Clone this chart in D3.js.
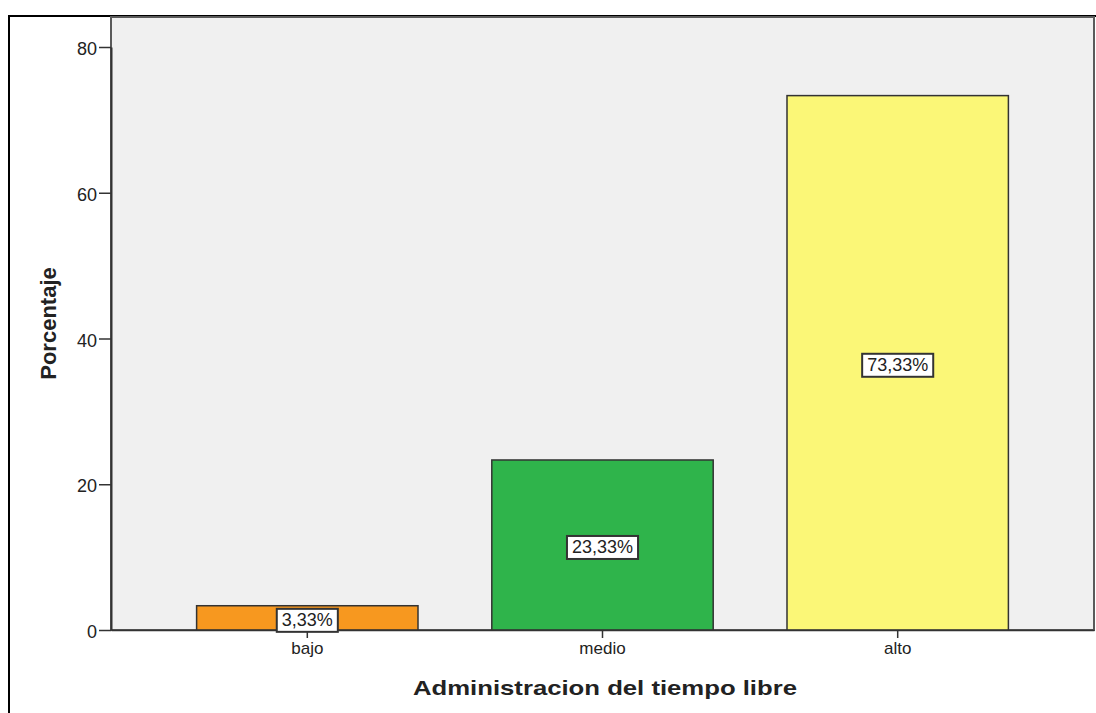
<!DOCTYPE html>
<html>
<head>
<meta charset="utf-8">
<script src="https://cdn.jsdelivr.net/npm/d3@7/dist/d3.min.js"></script>
<style>
  html, body { margin: 0; padding: 0; background: #fff; }
  svg { display: block; }
  text { font-family: Arial, "Liberation Sans", sans-serif; fill: #222; }
</style>
</head>
<body>
<svg id="chart" width="1096" height="713"></svg>
<script>
// Distribution of "Administracion del tiempo libre"
const categories = ["bajo", "medio", "alto"];
const percentages = [3.33, 23.33, 73.33];
const valueLabels = ["3,33%", "23,33%", "73,33%"];
const barColors = ["#f7981f", "#2fb44b", "#fbf777"];
const yTicks = [0, 20, 40, 60, 80];

const FONT = "Arial, 'Liberation Sans', sans-serif";
const svg = d3.select("#chart");

// Outer frame
svg.append("path")
  .attr("d", "M9,713 L9,16 L1096,16")
  .attr("fill", "none")
  .attr("stroke", "#000")
  .attr("stroke-width", 2);

const plot = { left: 111, right: 1094, top: 17, bottom: 630 };

const x = d3.scaleBand()
  .domain(categories)
  .range([plot.left, plot.right])
  .paddingInner(0.25)
  .paddingOuter(0.29);

const y = d3.scaleLinear()
  .domain([0, 80])
  .range([plot.bottom, 47]);

// Plot background
svg.append("rect")
  .attr("x", plot.left)
  .attr("y", plot.top)
  .attr("width", plot.right - plot.left)
  .attr("height", plot.bottom - plot.top)
  .attr("fill", "#f0f0f0")
  .attr("stroke", "#5a5a5a")
  .attr("stroke-width", 2);

// Bars
svg.append("g").selectAll("rect")
  .data(categories)
  .join("rect")
  .attr("x", d => x(d))
  .attr("width", x.bandwidth())
  .attr("y", (d, i) => y(percentages[i]))
  .attr("height", (d, i) => y(0) - y(percentages[i]))
  .attr("fill", (d, i) => barColors[i])
  .attr("stroke", "#333")
  .attr("stroke-width", 1.5);

// Axes
const yAxis = svg.append("g")
  .attr("transform", `translate(${plot.left},0)`)
  .call(d3.axisLeft(y).tickValues(yTicks).tickSize(12).tickSizeOuter(0).tickPadding(2));
yAxis.select(".domain").attr("stroke", "#333").attr("stroke-width", 2);
yAxis.selectAll(".tick line").attr("stroke", "#333").attr("stroke-width", 1.5);
yAxis.selectAll(".tick text").attr("font-size", 18).attr("fill", "#222")
  .attr("font-family", FONT).attr("dy", "0.42em");

const xAxis = svg.append("g")
  .attr("transform", `translate(0,${plot.bottom})`)
  .call(d3.axisBottom(x).tickSize(8).tickSizeOuter(0).tickPadding(4));
xAxis.select(".domain").attr("stroke", "#333").attr("stroke-width", 1.5);
xAxis.selectAll(".tick line").attr("stroke", "#333").attr("stroke-width", 1.5);
xAxis.selectAll(".tick text").attr("font-size", 17).attr("fill", "#222")
  .attr("font-family", FONT);

// Value labels centred in each bar
const labels = svg.append("g").selectAll("g")
  .data(categories)
  .join("g")
  .attr("transform", (d, i) =>
    `translate(${x(d) + x.bandwidth() / 2},${(y(percentages[i]) + y(0)) / 2 + 2})`);

labels.append("text")
  .attr("text-anchor", "middle")
  .attr("dy", "0.36em")
  .attr("font-size", 18)
  .text((d, i) => valueLabels[i])
  .each(function () {
    const b = this.getBBox();
    d3.select(this.parentNode).insert("rect", "text")
      .attr("x", b.x - 5)
      .attr("y", b.y - 1.5)
      .attr("width", b.width + 10)
      .attr("height", b.height + 3)
      .attr("fill", "#fff")
      .attr("stroke", "#333")
      .attr("stroke-width", 2);
  });

// Axis titles
svg.append("text")
  .attr("x", 605)
  .attr("y", 695)
  .attr("text-anchor", "middle")
  .attr("font-size", 21)
  .attr("font-weight", "bold")
  .attr("textLength", 384)
  .attr("lengthAdjust", "spacingAndGlyphs")
  .text("Administracion del tiempo libre");

svg.append("text")
  .attr("transform", `translate(56,${(plot.top + plot.bottom) / 2}) rotate(-90)`)
  .attr("text-anchor", "middle")
  .attr("font-size", 22)
  .attr("font-weight", "bold")
  .text("Porcentaje");
</script>
</body>
</html>
